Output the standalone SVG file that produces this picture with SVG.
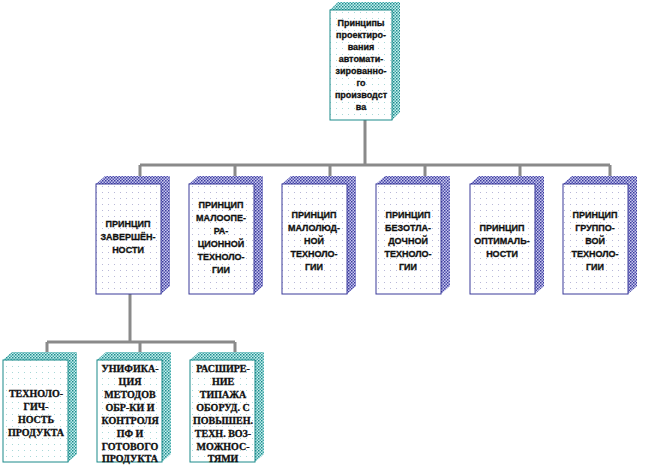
<svg xmlns="http://www.w3.org/2000/svg" width="646" height="470" viewBox="0 0 646 470">
<defs>
<pattern id="pb" width="3" height="3" patternUnits="userSpaceOnUse"><rect width="3" height="3" fill="#c8c8ee"/><rect width="1.5" height="1.5" fill="#3a3a9a"/><rect x="1.5" y="1.5" width="1.5" height="1.5" fill="#5050b0"/></pattern>
<pattern id="pt" width="3" height="3" patternUnits="userSpaceOnUse"><rect width="3" height="3" fill="#c8eeee"/><rect width="1.5" height="1.5" fill="#1a8a8a"/><rect x="1.5" y="1.5" width="1.5" height="1.5" fill="#40a8a8"/></pattern>
<pattern id="pf" width="6" height="6" patternUnits="userSpaceOnUse"><rect width="6" height="6" fill="#fff"/><rect width="1" height="1" fill="#b8b8d8"/></pattern>
<pattern id="pft" width="6" height="6" patternUnits="userSpaceOnUse"><rect width="6" height="6" fill="#fff"/><rect width="1" height="1" fill="#a8d8d8"/></pattern>
</defs>
<style>
.t{font-family:"Liberation Sans",Arial,sans-serif;font-weight:bold;font-size:9px;fill:#111;text-anchor:middle;stroke:#111;stroke-width:0.3}
.s{font-family:"Liberation Serif","Times New Roman",serif;font-weight:bold;font-size:10px;fill:#111;text-anchor:middle;stroke:#111;stroke-width:0.3}
.c{stroke:#8a8a8a;stroke-width:3;fill:none}
.fb{fill:url(#pf);stroke:#3a3a9a;stroke-width:1}
.ft{fill:url(#pft);stroke:#1a8a8a;stroke-width:1}
</style>
<g id="connectors">
<path class="c" d="M365 120V165M140 165H610M140 165V176M235 165V176M330 165V176M425 165V176M520 165V176M610 165V176"/>
<path class="c" d="M130 294V342M47 342H235M47 342V352M140 342V352M235 342V352"/>
</g>
<g id="n0">
<polygon points="330,10 338,2 400,2 392,10" fill="url(#pt)"/><polygon points="392,10 400,2 400,112 392,120" fill="url(#pt)"/>
<rect class="ft" x="330" y="10" width="62" height="110"/>
<text class="t" x="361" y="26">Принципы</text><text class="t" x="361" y="38">проектиро-</text><text class="t" x="361" y="50">вания</text><text class="t" x="361" y="62">автомати-</text><text class="t" x="361" y="74">зированно-</text><text class="t" x="361" y="86">го</text><text class="t" x="361" y="98">производст</text><text class="t" x="361" y="110">ва</text>
</g>
<g id="n1">
<polygon points="96,184 105,176 170,176 161,184" fill="url(#pb)"/><polygon points="161,184 170,176 170,286 161,294" fill="url(#pb)"/>
<rect class="fb" x="96" y="184" width="65" height="110"/>
<text class="t" x="128" y="227">ПРИНЦИП</text><text class="t" x="128" y="240">ЗАВЕРШЁН-</text><text class="t" x="128" y="253">НОСТИ</text>
</g>
<g id="n2">
<polygon points="189,184 198,176 263,176 254,184" fill="url(#pb)"/><polygon points="254,184 263,176 263,286 254,294" fill="url(#pb)"/>
<rect class="fb" x="189" y="184" width="65" height="110"/>
<text class="t" x="221" y="208">ПРИНЦИП</text><text class="t" x="221" y="221">МАЛООПЕ-</text><text class="t" x="221" y="234">РА-</text><text class="t" x="221" y="247">ЦИОННОЙ</text><text class="t" x="221" y="260">ТЕХНОЛО-</text><text class="t" x="221" y="273">ГИИ</text>
</g>
<g id="n3">
<polygon points="282,184 291,176 356,176 347,184" fill="url(#pb)"/><polygon points="347,184 356,176 356,286 347,294" fill="url(#pb)"/>
<rect class="fb" x="282" y="184" width="65" height="110"/>
<text class="t" x="314" y="218">ПРИНЦИП</text><text class="t" x="314" y="231">МАЛОЛЮД-</text><text class="t" x="314" y="244">НОЙ</text><text class="t" x="314" y="257">ТЕХНОЛО-</text><text class="t" x="314" y="270">ГИИ</text>
</g>
<g id="n4">
<polygon points="376,184 385,176 450,176 441,184" fill="url(#pb)"/><polygon points="441,184 450,176 450,286 441,294" fill="url(#pb)"/>
<rect class="fb" x="376" y="184" width="65" height="110"/>
<text class="t" x="408" y="218">ПРИНЦИП</text><text class="t" x="408" y="231">БЕЗОТЛА-</text><text class="t" x="408" y="244">ДОЧНОЙ</text><text class="t" x="408" y="257">ТЕХНОЛО-</text><text class="t" x="408" y="270">ГИИ</text>
</g>
<g id="n5">
<polygon points="470,184 479,176 544,176 535,184" fill="url(#pb)"/><polygon points="535,184 544,176 544,286 535,294" fill="url(#pb)"/>
<rect class="fb" x="470" y="184" width="65" height="110"/>
<text class="t" x="502" y="231">ПРИНЦИП</text><text class="t" x="502" y="244">ОПТИМАЛЬ-</text><text class="t" x="502" y="257">НОСТИ</text>
</g>
<g id="n6">
<polygon points="563,184 572,176 637,176 628,184" fill="url(#pb)"/><polygon points="628,184 637,176 637,286 628,294" fill="url(#pb)"/>
<rect class="fb" x="563" y="184" width="65" height="110"/>
<text class="t" x="595" y="218">ПРИНЦИП</text><text class="t" x="595" y="231">ГРУППО-</text><text class="t" x="595" y="244">ВОЙ</text><text class="t" x="595" y="257">ТЕХНОЛО-</text><text class="t" x="595" y="270">ГИИ</text>
</g>
<g id="n7">
<polygon points="3,360 12,352 77,352 68,360" fill="url(#pt)"/><polygon points="68,360 77,352 77,454 68,462" fill="url(#pt)"/>
<rect class="ft" x="3" y="360" width="65" height="102"/>
<text class="s" x="36" y="397">ТЕХНОЛО-</text><text class="s" x="36" y="410">ГИЧ-</text><text class="s" x="36" y="423">НОСТЬ</text><text class="s" x="36" y="436">ПРОДУКТА</text>
</g>
<g id="n8">
<polygon points="97,360 106,352 171,352 162,360" fill="url(#pt)"/><polygon points="162,360 171,352 171,454 162,462" fill="url(#pt)"/>
<rect class="ft" x="97" y="360" width="65" height="102"/>
<text class="s" x="130" y="372">УНИФИКА-</text><text class="s" x="130" y="385">ЦИЯ</text><text class="s" x="130" y="398">МЕТОДОВ</text><text class="s" x="130" y="411">ОБР-КИ И</text><text class="s" x="130" y="424">КОНТРОЛЯ</text><text class="s" x="130" y="437">ПФ И</text><text class="s" x="130" y="450">ГОТОВОГО</text><text class="s" x="130" y="462">ПРОДУКТА</text>
</g>
<g id="n9">
<polygon points="190,360 199,352 264,352 255,360" fill="url(#pt)"/><polygon points="255,360 264,352 264,454 255,462" fill="url(#pt)"/>
<rect class="ft" x="190" y="360" width="65" height="102"/>
<text class="s" x="223" y="372">РАСШИРЕ-</text><text class="s" x="223" y="385">НИЕ</text><text class="s" x="223" y="398">ТИПАЖА</text><text class="s" x="223" y="411">ОБОРУД. С</text><text class="s" x="223" y="424">ПОВЫШЕН.</text><text class="s" x="223" y="437">ТЕХН. ВОЗ-</text><text class="s" x="223" y="450">МОЖНОС-</text><text class="s" x="223" y="462">ТЯМИ</text>
</g>
</svg>
